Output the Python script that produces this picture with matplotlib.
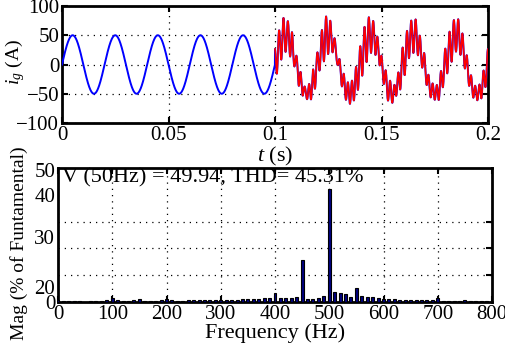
import numpy as np
import matplotlib
matplotlib.use("Agg")
import matplotlib.pyplot as plt

plt.rcParams['font.family'] = ['Liberation Serif', 'DejaVu Serif']
plt.rcParams['mathtext.fontset'] = 'custom'
plt.rcParams['mathtext.it'] = 'Liberation Serif:italic'
plt.rcParams['mathtext.rm'] = 'Liberation Serif'

# ---------------- data ----------------
fund_freq = 50          # Hz
fund_amp = 50           # A (peak, ~49.94)
thd_text = "V (50Hz) = 49.94, THD= 45.31%"

harm_freqs = [0, 10, 20, 30, 40, 60, 70, 80, 90, 100, 110, 120, 130, 140, 150,
              160, 170, 180, 190, 200, 210, 220, 230, 240, 250, 260, 270, 280,
              290, 300, 310, 320, 330, 340, 350, 360, 370, 380, 390, 400, 410,
              420, 430, 440, 450, 460, 470, 480, 490, 500, 510, 520, 530, 540,
              550, 560, 570, 580, 590, 600, 610, 620, 630, 640, 650, 660, 670,
              680, 690, 700, 710, 720, 730, 740, 750, 760, 770, 780, 790, 800]
harm_mags = [0.6, 0.5, 0.4, 0.4, 0.5, 0.5, 0.4, 0.5, 0.6, 1.5, 0.6, 0.5, 0.5, 0.6, 1.2,
             0.5, 0.5, 0.5, 0.6, 1.0, 0.6, 0.5, 0.5, 0.6, 0.7, 0.6, 0.6, 0.6,
             0.7, 0.8, 0.8, 0.8, 0.9, 1.0, 1.2, 1.2, 1.1, 1.4, 1.6, 3.4, 1.5,
             1.5, 1.5, 1.9, 15.7, 1.1, 1.1, 1.5, 2.2, 42.2, 3.6, 3.4, 2.9, 2.0,
             5.2, 2.2, 1.9, 1.9, 1.5, 1.0, 1.2, 1.2, 0.9, 0.9, 0.9, 0.8, 0.7,
             0.7, 0.7, 1.5, 0.4, 0.5, 0.5, 0.5, 0.6, 0.5, 0.5, 0.5, 0.5, 0.5]

t_switch = 0.1
t_end = 0.2

# ------------- waveform (reconstructed from the spectrum) -------------
t = np.linspace(0, t_end, 4001)
i_clean = fund_amp * np.sin(2 * np.pi * fund_freq * t)
tau = t - t_switch
hf = np.array(harm_freqs, dtype=float)
hm = np.array(harm_mags) / 100.0 * fund_amp
k = np.arange(len(hf))
phase = np.pi * k ** 2 / len(hf)            # fixed Schroeder-type phases
phase[hf == 500] = 0.5 * np.pi
phase[hf == 450] = 0.9 * np.pi
ripple = (hm[:, None] * np.sin(2 * np.pi * hf[:, None] * tau[None, :] + phase[:, None])).sum(0)
i_dist = i_clean + ripple
i_full = np.where(t < t_switch, i_clean, i_dist)

# ---------------- figure ----------------
fig = plt.figure(figsize=(5.05, 3.47), dpi=100)
fs = 15      # tick labels
fl = 16      # horizontal labels
fv = 14      # vertical labels

grid_kw = dict(color='black', linestyle=(0, (1, 4)), linewidth=0.9)

ax1 = fig.add_axes([62/505, 1-123/347, (488-62)/505, (123-6)/347])
ax1.plot(t, i_full, color='#0000ff', lw=1.4, zorder=3)
mask = t >= t_switch
ax1.plot(t[mask], i_dist[mask], color='#ff0000', lw=1.2, zorder=4)
ax1.set_xlim(0, 0.2)
ax1.set_ylim(-100, 100)
ax1.set_xticks([0, 0.05, 0.1, 0.15, 0.2])
ax1.set_xticklabels(['0', '0.05', '0.1', '0.15', '0.2'])
ax1.set_yticks([-100, -50, 0, 50, 100])
ax1.grid(True, **grid_kw)
ax1.set_ylabel(r'$i_g$ (A)', fontsize=fv)
ax1.yaxis.set_label_coords(-0.082, 0.52)
ax1.set_xlabel(r'$t$ (s)', fontsize=fl)
ax1.xaxis.set_label_coords(0.5, -0.185)

ax2 = fig.add_axes([58/505, 1-302/347, (492-58)/505, (302-168)/347])
ax2.bar(harm_freqs, harm_mags, width=5.5, color='#000080', edgecolor='black',
        linewidth=0.8, zorder=3)
ax2.set_xlim(0, 800)
ax2.set_ylim(0, 50)
ax2.set_xticks(np.arange(0, 801, 100))
ax2.set_yticks([0, 5.6, 24.3, 40, 49.3])
ax2.set_yticklabels(['0', '20', '30', '40', '50'])
ax2.set_yticks([10, 20, 30, 40], minor=True)
ax2.xaxis.grid(True, **grid_kw)
ax2.yaxis.grid(True, which='minor', **grid_kw)
ax2.tick_params(axis='y', which='major', length=0)
ax2.tick_params(axis='y', which='minor', left=False, right=True, direction='in', length=4, width=1.5)
ax2.set_xlabel('Frequency (Hz)', fontsize=fl)
ax2.xaxis.set_label_coords(0.5, -0.155)
ax2.set_ylabel('Mag (% of Funtamental)', fontsize=fv)
ax2.yaxis.set_label_coords(-0.068, 0.44)
ax2.text(0.01, 0.995, thd_text, transform=ax2.transAxes, ha='left', va='top', fontsize=fl)

for ax in (ax1, ax2):
    for s in ax.spines.values():
        s.set_linewidth(2.0)
    ax.tick_params(axis='both', which='major', labelsize=fs, direction='in', width=1.5, pad=2)
ax1.tick_params(axis='both', which='major', top=True, right=True, length=4)
ax2.tick_params(axis='x', which='major', top=True, length=4)

fig.savefig('out.png', dpi=100)
